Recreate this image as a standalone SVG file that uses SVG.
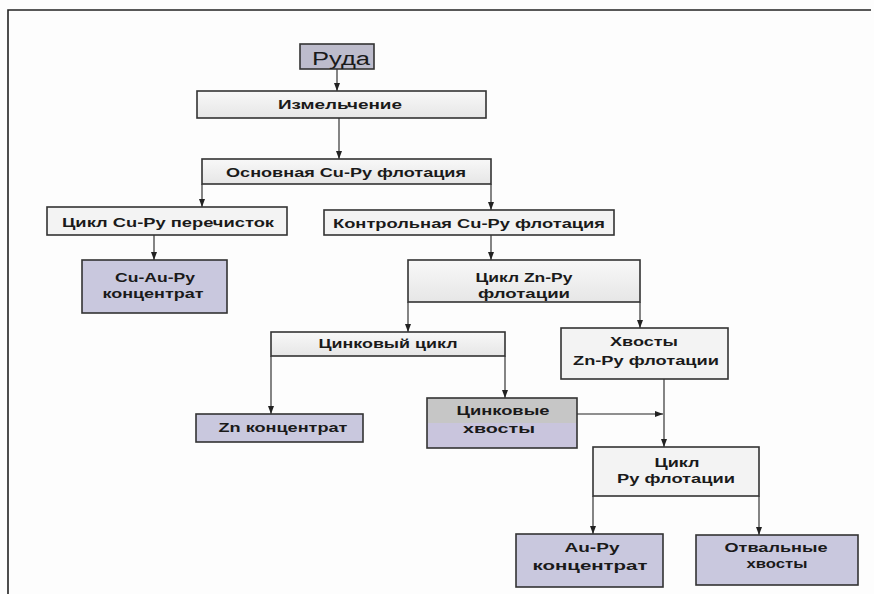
<svg xmlns="http://www.w3.org/2000/svg" width="874" height="594" viewBox="0 0 874 594">
  <defs>
    <marker id="arrow" viewBox="0 0 8 8" refX="8" refY="4" markerWidth="8" markerHeight="8" markerUnits="userSpaceOnUse" orient="auto">
      <path d="M0,1 L8,4 L0,7 z" fill="#222"/>
    </marker>
    <linearGradient id="gStep" x1="0" y1="0" x2="0" y2="1">
      <stop offset="0" stop-color="#f8f8f8"/>
      <stop offset="1" stop-color="#e6e6e6"/>
    </linearGradient>
  </defs>
  <style>
    .box { stroke: #333; stroke-width: 1.6; }
    .step { fill: url(#gStep); }
    .light { fill: #f3f3f3; }
    .prod { fill: #c9c8de; }
    .ore { fill: #bdbccc; }
    .grey { fill: #c6c6c6; }
    .lav { fill: #c9c5dd; }
    .edge { fill: none; stroke: #222; stroke-width: 1.1; marker-end: url(#arrow); }
    .frame { fill: none; stroke: #222; stroke-width: 1.6; }
    text { font-family: "Liberation Sans", Arial, sans-serif; font-weight: bold; font-size: 13px; fill: #1a1a1a; text-anchor: middle; }
    .ore-t { font-size: 18px; font-weight: normal; }
  </style>

  <rect width="874" height="594" fill="#fdfdfd"/>
  <path class="frame" d="M8,594 V10 H871"/>

  <g id="connectors">
    <path class="edge" d="M337,69 V91"/>
    <path class="edge" d="M339,118 V159"/>
    <path class="edge" d="M202,184 V207"/>
    <path class="edge" d="M491,184 V210"/>
    <path class="edge" d="M154,235 V260"/>
    <path class="edge" d="M491,235 V260"/>
    <path class="edge" d="M408,302 V332"/>
    <path class="edge" d="M640,302 V328"/>
    <path class="edge" d="M271,356 V414"/>
    <path class="edge" d="M505,356 V398"/>
    <path class="edge" d="M664,379 V447"/>
    <path class="edge" d="M577,414 H663"/>
    <path class="edge" d="M593,496 V534"/>
    <path class="edge" d="M759,496 V535"/>
  </g>

  <g id="ore">
    <rect class="box ore" x="300" y="44" width="74" height="25"/>
    <text class="ore-t" x="341" y="65" textLength="58" lengthAdjust="spacingAndGlyphs">Руда</text>
  </g>

  <g id="grinding">
    <rect class="box step" x="197" y="91" width="289" height="27"/>
    <text x="340" y="109" textLength="124" lengthAdjust="spacingAndGlyphs">Измельчение</text>
  </g>

  <g id="rougher">
    <rect class="box step" x="202" y="159" width="289" height="25"/>
    <text x="346" y="177" textLength="240" lengthAdjust="spacingAndGlyphs">Основная Cu-Py флотация</text>
  </g>

  <g id="cleaner">
    <rect class="box light" x="47" y="207" width="240" height="28"/>
    <text x="168" y="227" textLength="212" lengthAdjust="spacingAndGlyphs">Цикл Cu-Py перечисток</text>
  </g>

  <g id="cu-concentrate">
    <rect class="box prod" x="82" y="260" width="145" height="53"/>
    <text x="155" y="282" textLength="80" lengthAdjust="spacingAndGlyphs">Cu-Au-Py</text>
    <text x="153" y="298" textLength="101" lengthAdjust="spacingAndGlyphs">концентрат</text>
  </g>

  <g id="scavenger">
    <rect class="box light" x="324" y="210" width="290" height="25"/>
    <text x="469" y="228" textLength="272" lengthAdjust="spacingAndGlyphs">Контрольная Cu-Py флотация</text>
  </g>

  <g id="zn-circuit">
    <rect class="box step" x="408" y="260" width="232" height="42"/>
    <text x="524" y="282" textLength="97" lengthAdjust="spacingAndGlyphs">Цикл Zn-Py</text>
    <text x="524" y="298" textLength="92" lengthAdjust="spacingAndGlyphs">флотации</text>
  </g>

  <g id="zinc-cycle">
    <rect class="box step" x="271" y="332" width="234" height="24"/>
    <text x="388" y="348" textLength="139" lengthAdjust="spacingAndGlyphs">Цинковый цикл</text>
  </g>

  <g id="zn-concentrate">
    <rect class="box prod" x="196" y="414" width="167" height="28"/>
    <text x="283" y="432" textLength="129" lengthAdjust="spacingAndGlyphs">Zn концентрат</text>
  </g>

  <g id="zinc-tails">
    <rect class="grey" x="427" y="398" width="150" height="25"/>
    <rect class="lav" x="427" y="423" width="150" height="25"/>
    <rect class="box" fill="none" x="427" y="398" width="150" height="50"/>
    <text x="503" y="415" textLength="93" lengthAdjust="spacingAndGlyphs">Цинковые</text>
    <text x="499" y="433" textLength="72" lengthAdjust="spacingAndGlyphs">хвосты</text>
  </g>

  <g id="zn-tails">
    <rect class="box light" x="561" y="328" width="167" height="51"/>
    <text x="644" y="346" textLength="68" lengthAdjust="spacingAndGlyphs">Хвосты</text>
    <text x="646" y="365" textLength="146" lengthAdjust="spacingAndGlyphs">Zn-Py флотации</text>
  </g>

  <g id="py-circuit">
    <rect class="box light" x="593" y="447" width="166" height="49"/>
    <text x="677" y="467" textLength="45" lengthAdjust="spacingAndGlyphs">Цикл</text>
    <text x="676" y="483" textLength="118" lengthAdjust="spacingAndGlyphs">Py флотации</text>
  </g>

  <g id="au-concentrate">
    <rect class="box prod" x="516" y="534" width="147" height="53"/>
    <text x="592" y="552" textLength="55" lengthAdjust="spacingAndGlyphs">Au-Py</text>
    <text x="590" y="570" textLength="115" lengthAdjust="spacingAndGlyphs">концентрат</text>
  </g>

  <g id="final-tails">
    <rect class="box prod" x="696" y="535" width="162" height="50"/>
    <text x="776" y="552" textLength="103" lengthAdjust="spacingAndGlyphs">Отвальные</text>
    <text x="777" y="568" textLength="61" lengthAdjust="spacingAndGlyphs">хвосты</text>
  </g>
</svg>
